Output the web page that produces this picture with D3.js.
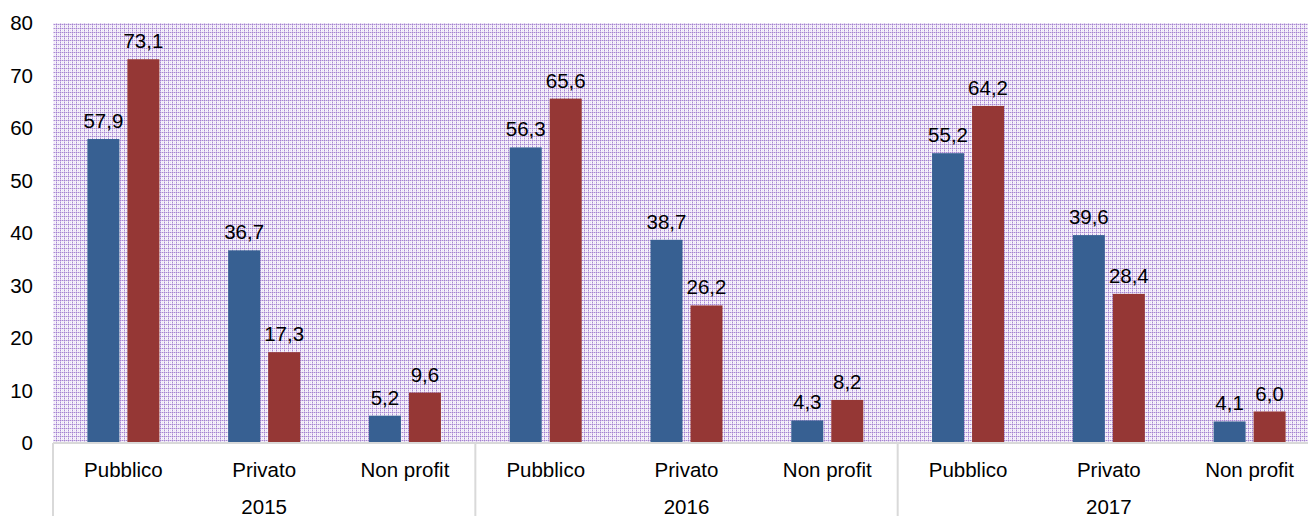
<!DOCTYPE html>
<html>
<head>
<meta charset="utf-8">
<script src="https://cdn.jsdelivr.net/npm/d3@7"></script>
<style>
  body { margin: 0; background: #fff; }
  svg { display: block; font-family: "Liberation Sans", Arial, sans-serif; }
</style>
</head>
<body>
<svg id="chart" width="1308" height="516"></svg>
<script>
// data
var years = ["2015", "2016", "2017"];
var sectors = ["Pubblico", "Privato", "Non profit"];
var seriesBlue = [57.9, 36.7, 5.2, 56.3, 38.7, 4.3, 55.2, 39.6, 4.1];
var seriesRed = [73.1, 17.3, 9.6, 65.6, 26.2, 8.2, 64.2, 28.4, 6.0];
var yTicks = [0, 10, 20, 30, 40, 50, 60, 70, 80];

var colors = ["#376092", "#953735"];
var fontSize = 20.5;

// note: "top" is window.top, so use other names
var plotLeft = 53, plotTop = 23, plotW = 1267, plotBottom = 443;

var svg = d3.select("#chart");

// dotted lavender fill like the excel pattern
var defs = svg.append("defs");
var pat = defs.append("pattern")
    .attr("id", "dots")
    .attr("patternUnits", "userSpaceOnUse")
    .attr("width", 4).attr("height", 4);
pat.append("rect").attr("width", 4).attr("height", 4).attr("fill", "#f4eff9");
var px = [
    [0, 0, "#a27fcf"], [1, 0, "#d4c3e9"], [2, 0, "#a888d3"], [3, 0, "#d4c3e9"],
    [0, 1, "#d4c3e9"], [0, 2, "#a888d3"], [0, 3, "#d4c3e9"],
    [2, 2, "#e6dcf2"], [1, 2, "#fbf9fd"], [3, 2, "#fbf9fd"]
];
px.forEach(function(p) {
    pat.append("rect").attr("x", p[0]).attr("y", p[1]).attr("width", 1).attr("height", 1).attr("fill", p[2]);
});

var cats = [];
years.forEach(function(yr) { sectors.forEach(function(s) { cats.push(yr + "|" + s); }); });

var x = d3.scaleBand().domain(cats).range([plotLeft, plotLeft + plotW]);
var y = d3.scaleLinear().domain([0, 80]).range([plotBottom, plotTop]);

svg.append("rect")
    .attr("x", plotLeft).attr("y", plotTop)
    .attr("width", plotW).attr("height", plotBottom - plotTop)
    .attr("fill", "url(#dots)");

// y axis labels
svg.append("g").selectAll("text")
    .data(yTicks).enter().append("text")
    .attr("x", 33).attr("y", function(d) { return y(d); })
    .attr("dy", "0.35em")
    .attr("text-anchor", "end")
    .attr("font-size", fontSize).attr("fill", "#000")
    .text(function(d) { return d; });

var barW = 32, gap = 8;

var data = cats.map(function(c, i) { return { cat: c, vals: [seriesBlue[i], seriesRed[i]] }; });

var groups = svg.append("g").selectAll("g")
    .data(data).enter().append("g");

[0, 1].forEach(function(k) {
    groups.append("rect")
        .attr("x", function(d) { return x(d.cat) + x.bandwidth() / 2 - barW - gap / 2 + k * (barW + gap); })
        .attr("y", function(d) { return y(d.vals[k]); })
        .attr("width", barW)
        .attr("height", function(d) { return y(0) - y(d.vals[k]); })
        .attr("fill", colors[k]);

    groups.append("text")
        .attr("x", function(d) { return x(d.cat) + x.bandwidth() / 2 - barW / 2 - gap / 2 + k * (barW + gap); })
        .attr("y", function(d) { return y(d.vals[k]) - 11; })
        .attr("text-anchor", "middle")
        .attr("font-size", fontSize).attr("fill", "#000")
        .text(function(d) { return d3.format(".1f")(d.vals[k]).replace(".", ","); });
});

// baseline and group separators
svg.append("line")
    .attr("x1", plotLeft).attr("x2", plotLeft + plotW)
    .attr("y1", plotBottom).attr("y2", plotBottom)
    .attr("stroke", "#d9d9d9").attr("stroke-width", 2);

[0, 3, 6].forEach(function(i) {
    var xx = x(cats[i]);
    svg.append("line")
        .attr("x1", xx).attr("x2", xx)
        .attr("y1", plotBottom).attr("y2", 516)
        .attr("stroke", "#d9d9d9").attr("stroke-width", 2);
});

// category labels
svg.append("g").selectAll("text")
    .data(cats).enter().append("text")
    .attr("x", function(d) { return x(d) + x.bandwidth() / 2; })
    .attr("y", 477)
    .attr("text-anchor", "middle")
    .attr("font-size", fontSize).attr("fill", "#000")
    .text(function(d) { return d.split("|")[1]; });

svg.append("g").selectAll("text")
    .data(years).enter().append("text")
    .attr("x", function(d) { return x(d + "|Privato") + x.bandwidth() / 2; })
    .attr("y", 514)
    .attr("text-anchor", "middle")
    .attr("font-size", fontSize).attr("fill", "#000")
    .text(function(d) { return d; });
</script>
</body>
</html>
